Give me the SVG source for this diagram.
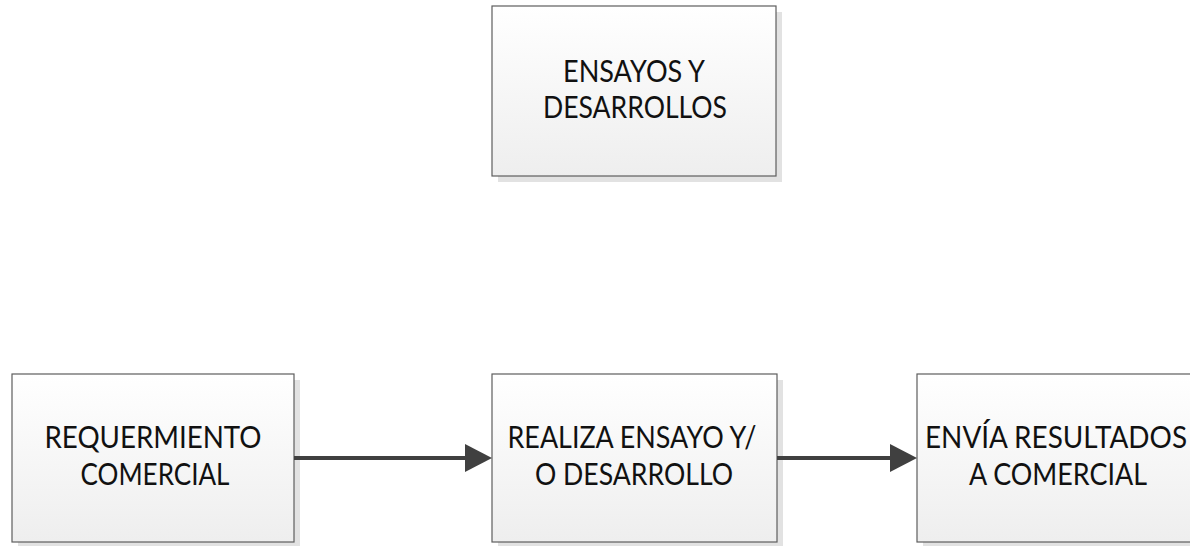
<svg xmlns="http://www.w3.org/2000/svg" width="1190" height="546" viewBox="0 0 1190 546">
<style>
.box{fill:url(#g);stroke:#5e5e5e;stroke-width:1.2}
.shadow{fill:#e2e2e2}
.lbl{font-family:Lato,"Open Sans","Liberation Sans",sans-serif;font-size:31px;fill:#111;text-anchor:middle}
.conn{stroke:#404040;stroke-width:4;fill:none;marker-end:url(#ah)}
</style>
<defs>
<linearGradient id="g" x1="0" y1="0" x2="0" y2="1">
<stop offset="0" stop-color="#ffffff"/>
<stop offset="1" stop-color="#eeeeee"/>
</linearGradient>
<marker id="ah" markerUnits="userSpaceOnUse" markerWidth="28" markerHeight="29" refX="0" refY="14" orient="auto" overflow="visible">
<path d="M0,0 L27,14 L0,28 Z" fill="#404040"/>
</marker>
</defs>
<g id="ensayos">
<rect class="shadow" x="498" y="12" width="284" height="170"/>
<rect class="box" x="492" y="6" width="284" height="170"/>
<text class="lbl" x="634" y="82" textLength="142" lengthAdjust="spacingAndGlyphs">ENSAYOS Y</text>
<text class="lbl" x="635" y="118" textLength="184" lengthAdjust="spacingAndGlyphs">DESARROLLOS</text>
</g>
<g id="requerimiento">
<rect class="shadow" x="18" y="380" width="282" height="168"/>
<rect class="box" x="12" y="374" width="282" height="168"/>
<text class="lbl" x="153" y="448" textLength="217" lengthAdjust="spacingAndGlyphs">REQUERMIENTO</text>
<text class="lbl" x="155" y="485" textLength="149" lengthAdjust="spacingAndGlyphs">COMERCIAL</text>
</g>
<g id="realiza">
<rect class="shadow" x="498" y="380" width="285" height="168"/>
<rect class="box" x="492" y="374" width="285" height="168"/>
<text class="lbl" x="632" y="448" textLength="249" lengthAdjust="spacingAndGlyphs">REALIZA ENSAYO Y/</text>
<text class="lbl" x="634" y="485" textLength="198" lengthAdjust="spacingAndGlyphs">O DESARROLLO</text>
</g>
<g id="envia">
<rect class="shadow" x="923" y="380" width="285" height="168"/>
<rect class="box" x="917" y="374" width="285" height="168"/>
<text class="lbl" x="1056" y="448" textLength="262" lengthAdjust="spacingAndGlyphs">ENVÍA RESULTADOS</text>
<text class="lbl" x="1058" y="485" textLength="178" lengthAdjust="spacingAndGlyphs">A COMERCIAL</text>
</g>
<g id="connectors">
<path class="conn" d="M294,458 H465"/>
<path class="conn" d="M777,458 H890"/>
</g>
</svg>
